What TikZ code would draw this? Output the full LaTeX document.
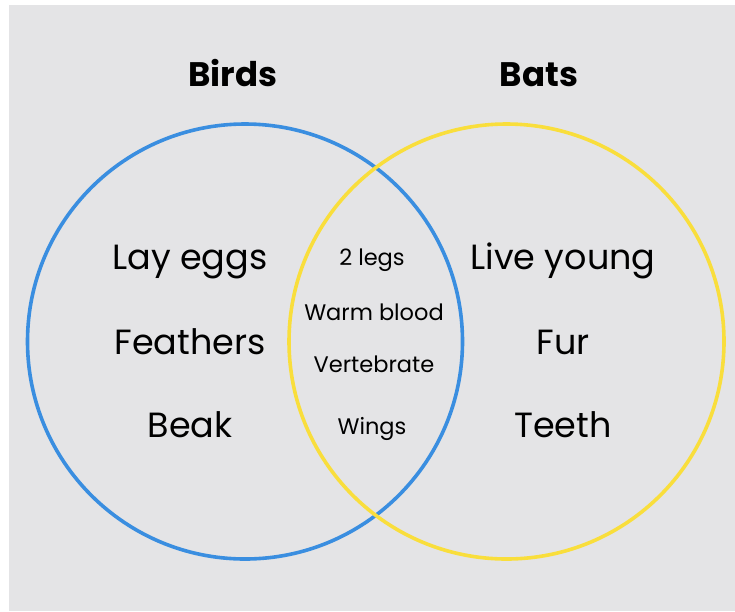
\documentclass[tikz,border=0pt]{standalone}
\usepackage{fontspec}
\setmainfont{Poppins}
\definecolor{bg}{HTML}{E4E4E6}
\definecolor{bblue}{HTML}{3A8EE0}
\definecolor{byel}{HTML}{F9DE3C}
\tikzset{
  big/.style={font=\fontsize{35}{40}\selectfont, text=black, inner sep=0pt, anchor=base},
  small/.style={font=\fontsize{22.5}{26}\selectfont, text=black, inner sep=0pt, anchor=base},
  title/.style={font=\fontsize{34}{38}\selectfont\bfseries, text=black, inner sep=0pt, anchor=base},
  ring/.style={line width=3.6pt}
}
\begin{document}
\begin{tikzpicture}[x=1pt,y=-1pt]
\useasboundingbox (0,0) rectangle (735,611);
\fill[white] (0,0) rectangle (735,611);
\fill[bg] (9,5) rectangle (735,611);
\draw[ring, bblue] (245,341.5) circle[radius=217.5];
\draw[ring, byel] (506.5,341.5) circle[radius=217.5];
\node[title] (birds) at (233,86.5) {Birds};
\node[title] (bats) at (539,86.5) {Bats};
\node[big] (lay) at (190,269.5) {Lay eggs};
\node[big] (fea) at (190,354) {Feathers};
\node[big] (beak) at (190,437) {Beak};
\node[big] (live) at (563,269.5) {Live young};
\node[big] (fur) at (563,354) {Fur};
\node[big] (teeth) at (563,437) {Teeth};
\node[small] (legs) at (372,265) {2 legs};
\node[small] (warm) at (374,320.5) {Warm blood};
\node[small] (vert) at (374,372) {Vertebrate};
\node[small] (wings) at (372,434) {Wings};
\end{tikzpicture}
\end{document}
